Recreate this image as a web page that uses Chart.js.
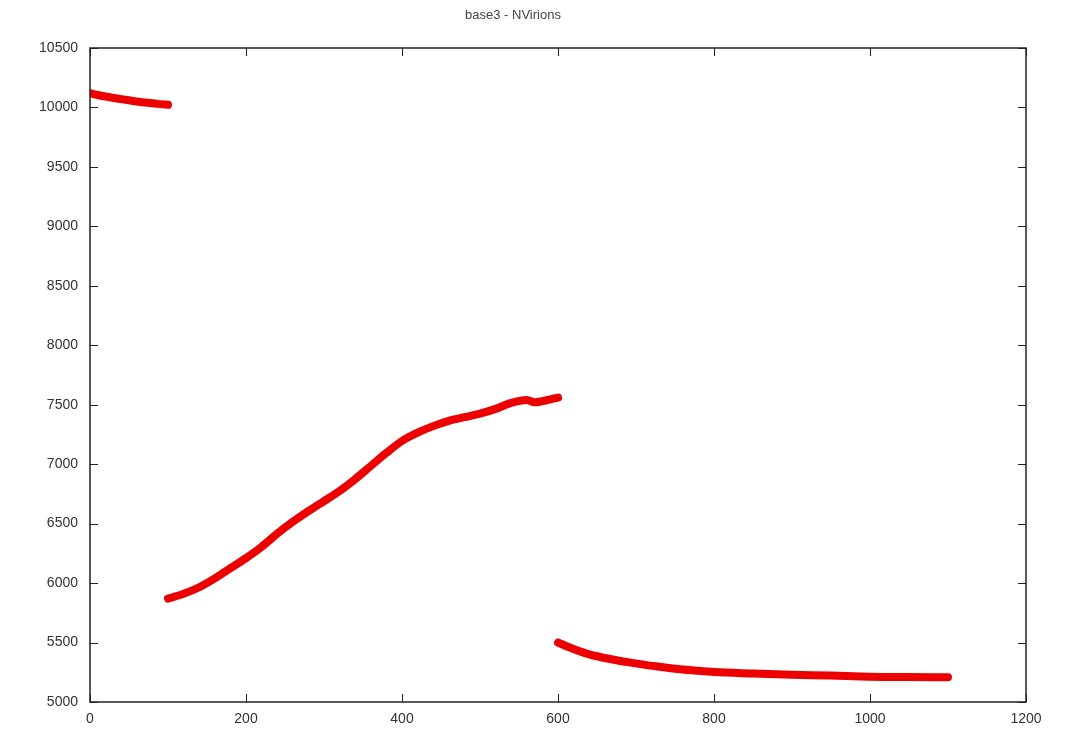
<!DOCTYPE html>
<html>
<head>
<meta charset="utf-8">
<script src="https://cdn.jsdelivr.net/npm/chart.js@4"></script>
<style>
  html, body { margin: 0; padding: 0; background: #fff; }
  #wrap { width: 1065px; height: 736px; }
</style>
</head>
<body>
<div id="wrap"><canvas id="myChart" width="1065" height="736"></canvas></div>
<script>
// first run, time 0..100
const seg1X = [0, 10, 20, 30, 40, 50, 60, 70, 80, 90, 100];
const seg1Y = [10120, 10105, 10092, 10080, 10070, 10060, 10050, 10042, 10035, 10028, 10022];
// second run, time 100..600
const seg2X = [100, 120, 140, 160, 180, 200, 220, 240, 260, 280, 300, 320, 340, 360, 380, 400, 420, 440, 460, 480, 500, 520, 540, 560, 570, 580, 590, 600];
const seg2Y = [5870, 5910, 5965, 6040, 6125, 6210, 6305, 6415, 6515, 6605, 6690, 6775, 6875, 6985, 7095, 7195, 7265, 7320, 7365, 7395, 7425, 7465, 7515, 7540, 7520, 7530, 7545, 7560];
// third run, time 600..1100
const seg3X = [600, 620, 640, 660, 680, 700, 725, 750, 775, 800, 850, 900, 950, 1000, 1050, 1100];
const seg3Y = [5500, 5445, 5400, 5370, 5345, 5325, 5300, 5280, 5265, 5252, 5240, 5230, 5222, 5212, 5210, 5208];

const xTicks = [0, 200, 400, 600, 800, 1000, 1200];
const yTicks = [5000, 5500, 6000, 6500, 7000, 7500, 8000, 8500, 9000, 9500, 10000, 10500];

const toPoints = (xs, ys) => xs.map((x, i) => ({ x: x, y: ys[i] }));

const lineColor = 'rgb(236, 0, 0)';
const mkSet = (xs, ys) => ({
    data: toPoints(xs, ys),
    borderColor: lineColor,
    backgroundColor: lineColor,
    borderWidth: 8,
    borderCapStyle: 'round',
    borderJoinStyle: 'round',
    pointRadius: 0,
    showLine: true,
    cubicInterpolationMode: 'monotone',
});

// gnuplot style box with inward ticks on all sides
const boxTicks = {
    id: 'boxTicks',
    afterDraw(chart) {
        const { ctx, chartArea: a, scales } = chart;
        ctx.save();
        ctx.strokeStyle = '#222';
        ctx.lineWidth = 1.5;
        ctx.strokeRect(a.left, a.top, a.right - a.left, a.bottom - a.top);
        ctx.lineWidth = 1;
        ctx.beginPath();
        xTicks.forEach(v => {
            const px = Math.round(scales.x.getPixelForValue(v)) + 0.5;
            ctx.moveTo(px, a.bottom); ctx.lineTo(px, a.bottom - 8);
            ctx.moveTo(px, a.top); ctx.lineTo(px, a.top + 8);
        });
        yTicks.forEach(v => {
            const py = Math.round(scales.y.getPixelForValue(v)) + 0.5;
            ctx.moveTo(a.left, py); ctx.lineTo(a.left + 8, py);
            ctx.moveTo(a.right, py); ctx.lineTo(a.right - 8, py);
        });
        ctx.stroke();
        ctx.restore();
    }
};

const myChart = new Chart(
    document.getElementById('myChart'),
    {
        type: 'scatter',
        data: {
            datasets: [
                mkSet(seg1X, seg1Y),
                mkSet(seg2X, seg2Y),
                mkSet(seg3X, seg3Y),
            ]
        },
        options: {
            responsive: false,
            animation: false,
            layout: {
                padding: { left: 0, right: 39, top: 0, bottom: 0 }
            },
            plugins: {
                legend: { display: false },
                tooltip: { enabled: false },
                title: {
                    display: true,
                    text: 'base3 - NVirions',
                    color: '#444',
                    font: { family: 'Liberation Sans, Arial, sans-serif', size: 13, weight: 'normal' },
                    padding: { top: 8, bottom: 24.4 }
                }
            },
            scales: {
                x: {
                    type: 'linear',
                    min: 0,
                    max: 1200,
                    afterBuildTicks: s => { s.ticks = xTicks.map(v => ({ value: v })); },
                    afterFit: s => { s.height = 34; },
                    grid: { display: false, drawTicks: false },
                    border: { display: false },
                    ticks: {
                        color: '#333',
                        padding: 9,
                        maxRotation: 0,
                        font: { family: 'Liberation Sans, Arial, sans-serif', size: 14 },
                        callback: v => String(v)
                    }
                },
                y: {
                    type: 'linear',
                    min: 5000,
                    max: 10500,
                    afterBuildTicks: s => { s.ticks = yTicks.map(v => ({ value: v })); },
                    afterFit: s => { s.width = 90; },
                    grid: { display: false, drawTicks: false },
                    border: { display: false },
                    ticks: {
                        color: '#333',
                        padding: 12,
                        font: { family: 'Liberation Sans, Arial, sans-serif', size: 14 },
                        callback: v => String(v)
                    }
                }
            }
        },
        plugins: [boxTicks]
    }
);
</script>
</body>
</html>
